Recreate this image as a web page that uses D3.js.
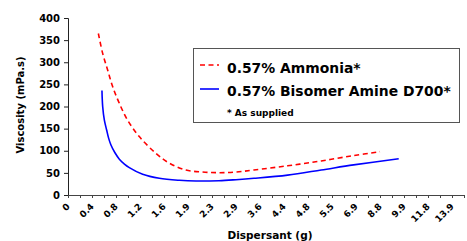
<!DOCTYPE html>
<html><head><meta charset="utf-8">
<script src="https://cdn.jsdelivr.net/npm/d3@7"></script>
<style>body{margin:0;background:#fff;} svg{display:block;}</style>
</head><body>
<svg id="chart" width="467" height="241"></svg>
<script>
// Category labels shown on the x axis (every other category)
const xLabels = ["0","0.4","0.8","1.2","1.6","1.9","2.3","2.9","3.6","4.4","4.8","5.5","6.9","8.8","9.9","11.8","13.9"];
const categoryCount = 34;
const yTicks = [0,50,100,150,200,250,300,350,400];

// Series: position along category axis (index units) and viscosity (mPa.s)
const ammoniaPos  = [2.53, 2.89, 3.31, 3.72, 4.28, 4.97, 5.94, 7.33, 8.44, 9.83, 11.22, 12.6, 14, 15.5, 18.3, 21.1, 23.8, 26];
const ammoniaVisc = [365, 320, 282, 245, 207, 169, 132, 94, 72, 56.5, 52, 50.4, 52, 56.5, 66, 77, 89, 98];
const bisomerPos  = [2.83, 2.89, 3.03, 3.22, 3.39, 3.58, 3.9, 4.28, 4.7, 5.11, 6.22, 7.61, 9.28, 10.67, 12.58, 14, 15.5, 18.3, 21.1, 23.8, 27.56];
const bisomerVisc = [236, 200, 169, 147, 128, 113, 96, 81, 70, 62, 46.8, 37.7, 33.2, 31.6, 32.3, 34.6, 37.7, 45, 56.5, 68, 82];

const seriesNames = ["0.57% Ammonia*", "0.57% Bisomer Amine D700*"];
const footnote = "* As supplied";

const svg = d3.select("#chart");
const font = "'DejaVu Sans', sans-serif";

const x = d3.scaleLinear().domain([0, categoryCount - 1]).range([68, 464]);
const y = d3.scaleLinear().domain([0, 400]).range([195, 18]);

// Y axis
const yAxis = svg.append("g").attr("transform", "translate(68,0)")
  .call(d3.axisLeft(y).tickValues(yTicks).tickSize(4).tickPadding(4));
yAxis.select(".domain").attr("stroke", "#222");
yAxis.selectAll(".tick line").attr("stroke", "#222");
yAxis.selectAll("text").attr("font-family", font).attr("font-weight", "bold")
  .attr("font-size", "10px").attr("fill", "#000");

// X axis
const xAxis = svg.append("g").attr("transform", "translate(0,195)")
  .call(d3.axisBottom(x).tickValues(d3.range(categoryCount))
    .tickFormat(i => i % 2 === 0 ? xLabels[i / 2] : "").tickSize(3).tickSizeOuter(0));
xAxis.select(".domain").attr("stroke", "#444");
xAxis.selectAll(".tick line").attr("stroke", "#444");
xAxis.selectAll("text").attr("font-family", font).attr("font-weight", "bold")
  .attr("font-size", "9px").attr("fill", "#000")
  .attr("text-anchor", "end").attr("dy", null).attr("y", 0)
  .attr("transform", "translate(2,12) rotate(-45)");

// Axis titles
svg.append("text").attr("x", 270).attr("y", 239).attr("text-anchor", "middle")
  .attr("font-family", font).attr("font-weight", "bold").attr("font-size", "10.5px")
  .text("Dispersant (g)");
svg.append("text").attr("transform", "translate(24,105) rotate(-90)").attr("text-anchor", "middle")
  .attr("font-family", font).attr("font-weight", "bold").attr("font-size", "10px")
  .text("Viscosity (mPa.s)");

// Lines
const line = d3.line().x(d => x(d[0])).y(d => y(d[1])).curve(d3.curveCatmullRom.alpha(0.5));
svg.append("path").datum(d3.zip(bisomerPos, bisomerVisc))
  .attr("d", line).attr("fill", "none").attr("stroke", "#0000ff").attr("stroke-width", 1.6);
svg.append("path").datum(d3.zip(ammoniaPos, ammoniaVisc))
  .attr("d", line).attr("fill", "none").attr("stroke", "#ff0000").attr("stroke-width", 1.6)
  .attr("stroke-dasharray", "5,3.5");

// Legend
const lg = svg.append("g");
lg.append("rect").attr("x", 193.5).attr("y", 48.5).attr("width", 266).attr("height", 74)
  .attr("fill", "#fff").attr("stroke", "#555").attr("stroke-width", 1);
lg.append("line").attr("x1", 200).attr("x2", 219).attr("y1", 65).attr("y2", 65)
  .attr("stroke", "#ff0000").attr("stroke-width", 1.6).attr("stroke-dasharray", "5,3.5");
lg.append("line").attr("x1", 200).attr("x2", 219).attr("y1", 89).attr("y2", 89)
  .attr("stroke", "#0000ff").attr("stroke-width", 1.6);
lg.append("text").attr("x", 227).attr("y", 73).attr("font-family", font).attr("font-weight", "bold")
  .attr("font-size", "13.9px").text(seriesNames[0]);
lg.append("text").attr("x", 227).attr("y", 96).attr("font-family", font).attr("font-weight", "bold")
  .attr("font-size", "13.9px").text(seriesNames[1]);
lg.append("text").attr("x", 227).attr("y", 116).attr("font-family", font).attr("font-weight", "bold")
  .attr("font-size", "9px").text(footnote);
</script>
</body></html>
